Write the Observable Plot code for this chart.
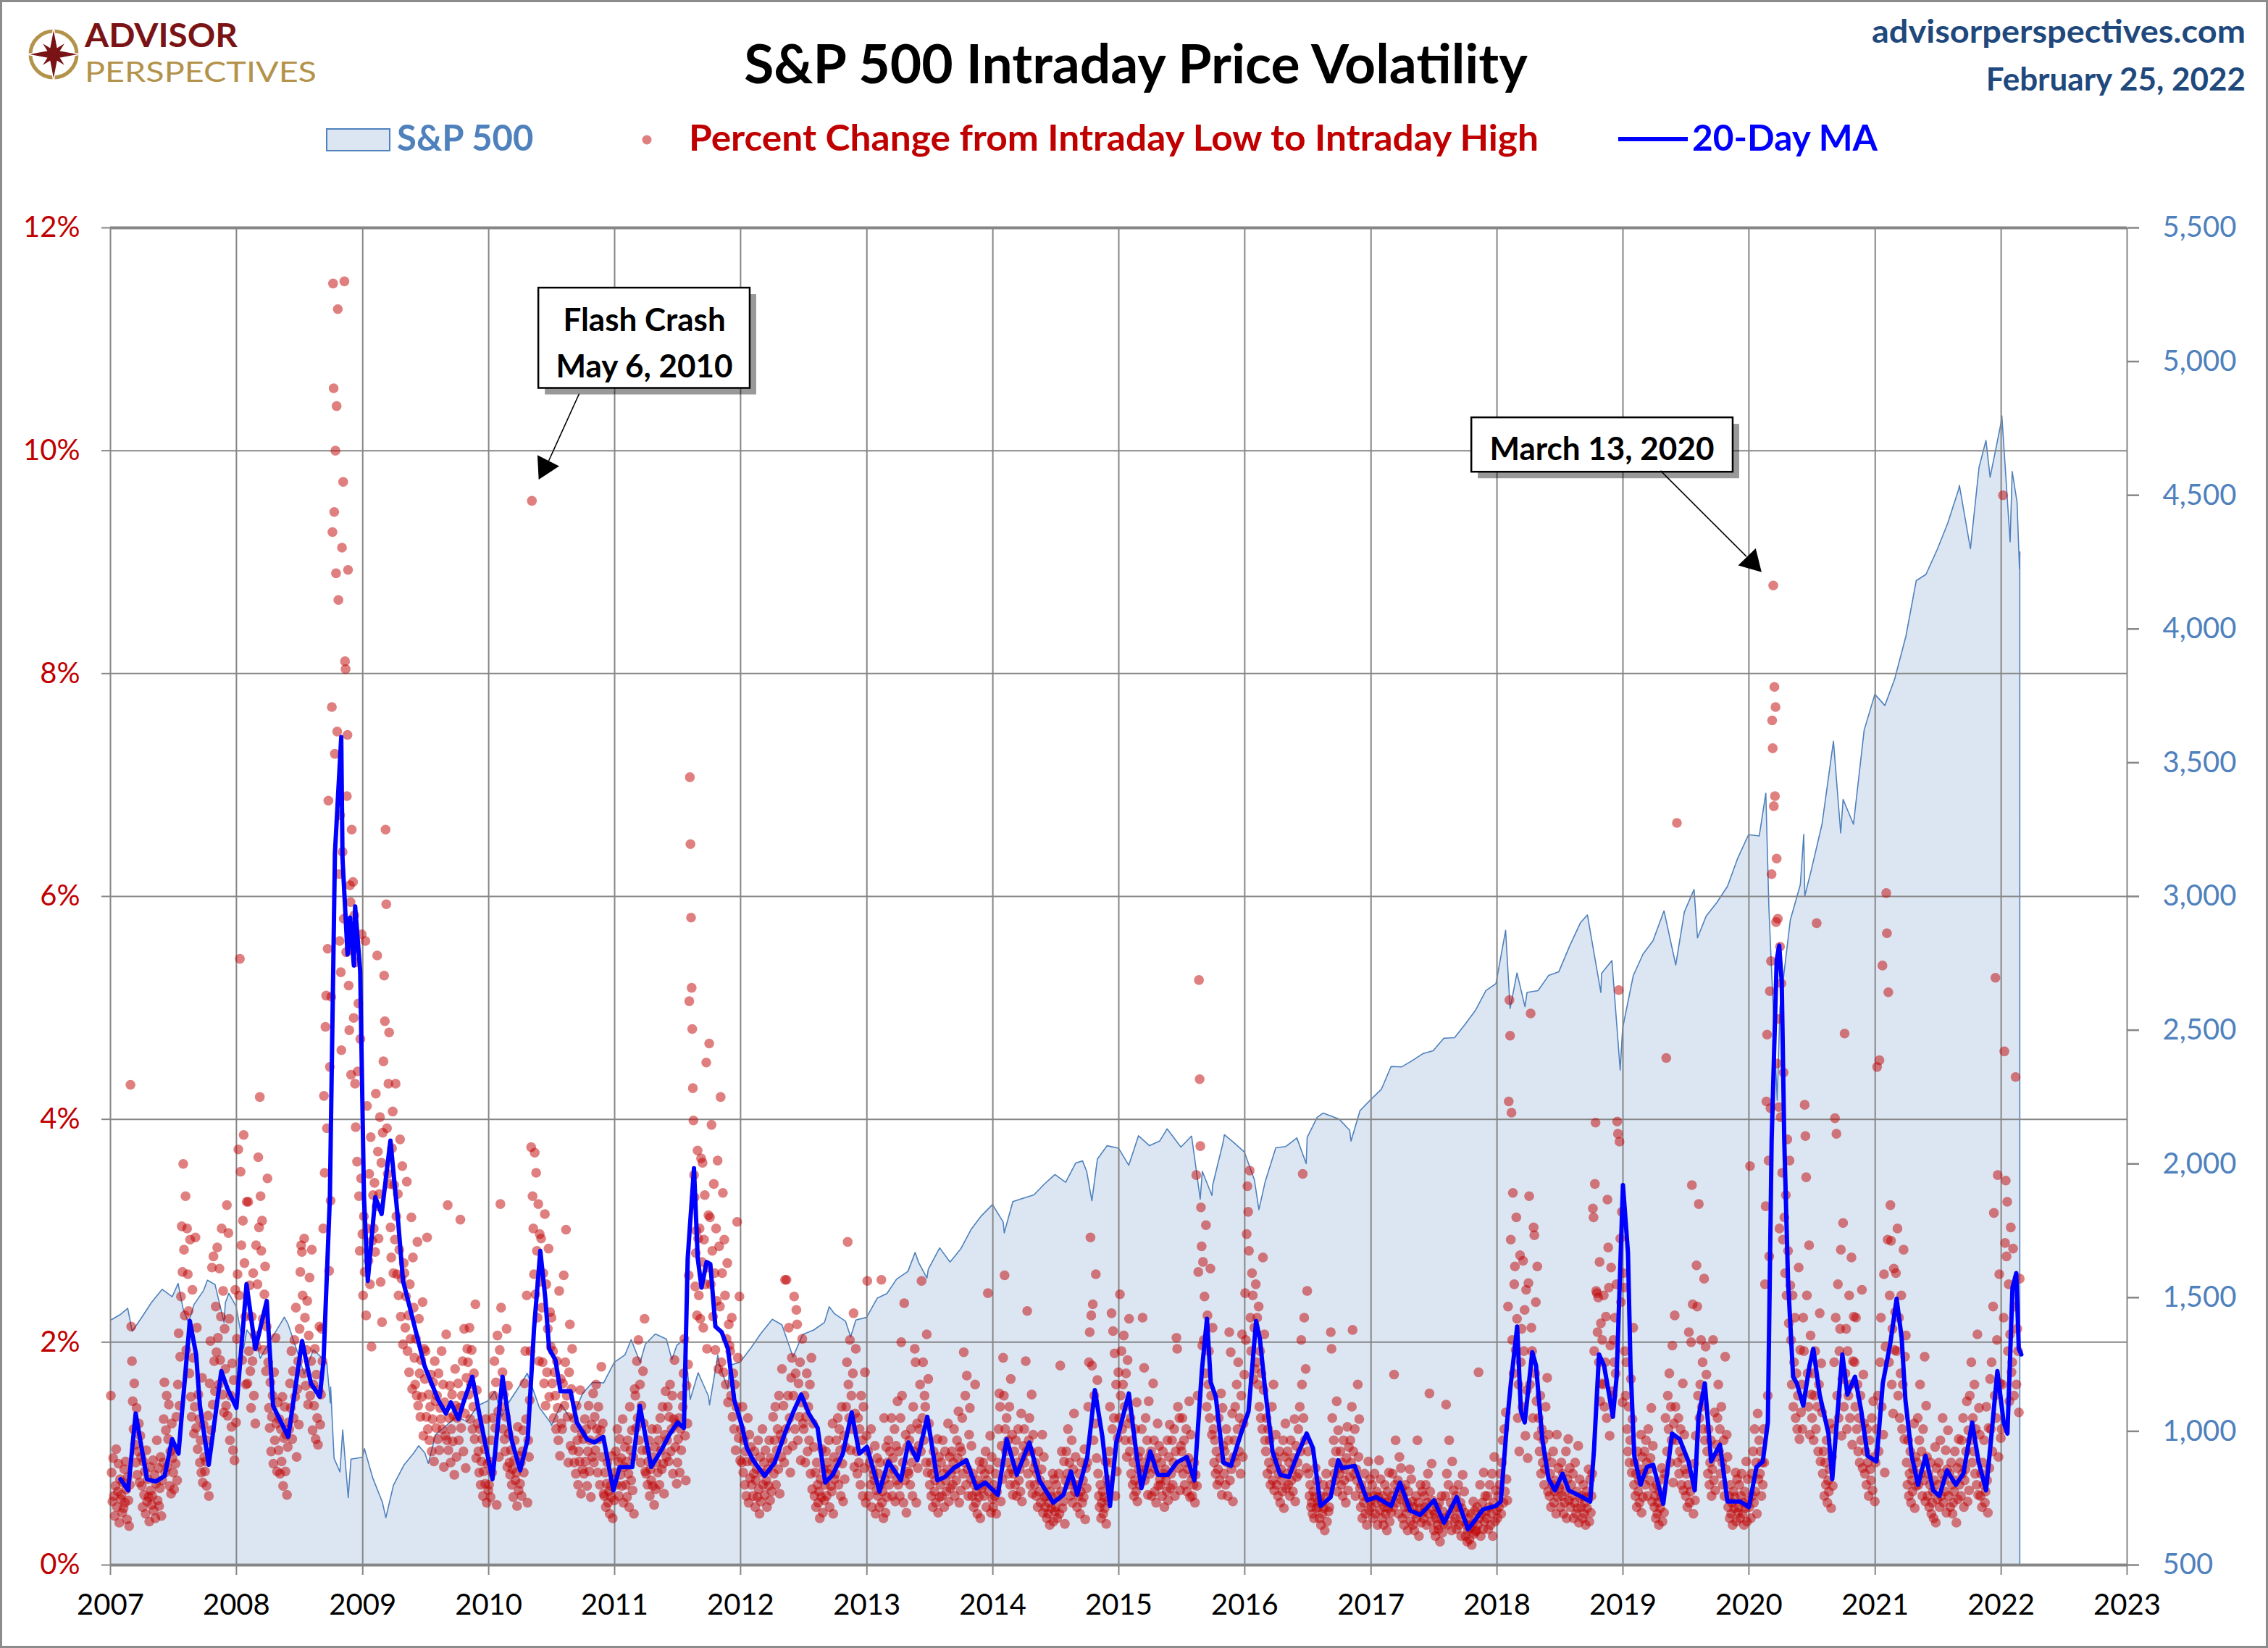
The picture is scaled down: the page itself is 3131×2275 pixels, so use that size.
<!DOCTYPE html>
<html><head><meta charset="utf-8">
<script src="https://cdn.jsdelivr.net/npm/d3@7"></script>
<script src="https://cdn.jsdelivr.net/npm/@observablehq/plot@0.6"></script>
<style>
html,body{margin:0;padding:0;background:#fff;}
#wrap{position:relative;width:3131px;height:2275px;box-sizing:border-box;border:3px solid #8C8C8C;background:#fff;overflow:hidden;font-family:Lato,sans-serif;}
#head{display:block;}
#chart svg{display:block;}
</style></head>
<body>
<div id="wrap">
<svg id="head" width="3125" height="277" font-family="Lato, sans-serif">
  <g transform="translate(71,72)">
    <circle r="32" fill="none" stroke="#B3924A" stroke-width="5"/>
    <path d="M0,-37 L6,-6 L37,0 L6,6 L0,37 L-6,6 L-37,0 L-6,-6 Z" fill="#7A1315" stroke="#fff" stroke-width="1.5"/>
    <path d="M0,-21 L4,-4 L21,0 L4,4 L0,21 L-4,4 L-21,0 L-4,-4 Z" transform="rotate(45)" fill="#7A1315"/>
  </g>
  <text x="114" y="62" font-size="45" font-weight="700" fill="#7A1315" textLength="211" lengthAdjust="spacingAndGlyphs">ADVISOR</text>
  <text x="114" y="110" font-size="38" font-weight="400" fill="#B3924A" textLength="320" lengthAdjust="spacingAndGlyphs">PERSPECTIVES</text>
  <text x="1565" y="112" text-anchor="middle" font-size="75" font-weight="700" fill="#000">S&amp;P 500 Intraday Price Volatility</text>
  <text x="3097" y="56" text-anchor="end" font-size="44" font-weight="700" fill="#1F497D" textLength="516" lengthAdjust="spacingAndGlyphs">advisorperspectives.com</text>
  <text x="3097" y="122" text-anchor="end" font-size="44" font-weight="700" fill="#1F497D">February 25, 2022</text>
  <rect x="448" y="175" width="87" height="30" fill="#DCE6F2" stroke="#4F81BD" stroke-width="2"/>
  <text x="545" y="205" font-size="49" font-weight="700" fill="#4F81BD">S&amp;P 500</text>
  <circle cx="890" cy="190" r="6.5" fill="#C00000" fill-opacity="0.5"/>
  <text x="948" y="205" font-size="49" font-weight="700" fill="#C00000" textLength="1173" lengthAdjust="spacingAndGlyphs">Percent Change from Intraday Low to Intraday High</text>
  <line x1="2231" x2="2327" y1="189" y2="189" stroke="#0000FF" stroke-width="6"/>
  <text x="2333" y="205" font-size="49" font-weight="700" fill="#0000FF" textLength="256" lengthAdjust="spacingAndGlyphs">20-Day MA</text>
</svg>
<div id="chart"></div>
</div>
<script>
// ---------- tick labels ----------
const yearLabels = ["2007","2008","2009","2010","2011","2012","2013","2014","2015","2016","2017","2018","2019","2020","2021","2022","2023"];
const pctTicks = [0,2,4,6,8,10,12];
const spTicks = [500,1000,1500,2000,2500,3000,3500,4000,4500,5000,5500];

// ---------- S&P 500 level (date, index) ----------
const sp500 = [
["2007-01-03",1417],["2007-01-31",1438],["2007-02-20",1460],["2007-03-05",1374],["2007-03-30",1421],["2007-04-30",1482],["2007-05-31",1531],["2007-06-29",1503],["2007-07-16",1553],["2007-07-31",1455],["2007-08-15",1406],["2007-08-31",1474],["2007-09-28",1527],["2007-10-09",1565],["2007-10-31",1549],["2007-11-26",1407],["2007-11-30",1481],["2007-12-10",1516],["2007-12-31",1468],
["2008-01-22",1310],["2008-01-31",1379],["2008-02-29",1331],["2008-03-10",1273],["2008-03-31",1323],["2008-04-30",1386],["2008-05-19",1427],["2008-05-30",1400],["2008-06-30",1280],["2008-07-15",1214],["2008-07-31",1267],["2008-08-11",1305],["2008-08-29",1283],["2008-09-19",1255],["2008-09-29",1106],["2008-09-30",1166],["2008-10-10",899],["2008-10-27",848],["2008-11-04",1005],["2008-11-20",752],["2008-11-28",896],["2008-12-31",903],
["2009-01-06",935],["2009-01-30",826],["2009-02-27",735],["2009-03-09",677],["2009-03-31",798],["2009-04-30",873],["2009-05-29",919],["2009-06-12",946],["2009-06-30",919],["2009-07-10",880],["2009-07-31",987],["2009-08-31",1021],["2009-09-30",1057],["2009-10-30",1036],["2009-11-30",1096],["2009-12-31",1115],
["2010-01-19",1150],["2010-02-08",1056],["2010-02-26",1104],["2010-03-31",1169],["2010-04-23",1217],["2010-05-28",1089],["2010-06-30",1031],["2010-07-02",1022],["2010-07-30",1102],["2010-08-26",1047],["2010-08-31",1049],["2010-09-30",1141],["2010-10-29",1183],["2010-11-30",1181],["2010-12-31",1258],
["2011-01-31",1286],["2011-02-18",1343],["2011-03-16",1257],["2011-03-31",1326],["2011-04-29",1364],["2011-05-31",1345],["2011-06-16",1268],["2011-06-30",1321],["2011-07-22",1345],["2011-08-08",1119],["2011-08-31",1219],["2011-09-30",1131],["2011-10-03",1099],["2011-10-27",1285],["2011-10-31",1253],["2011-11-25",1159],["2011-11-30",1247],["2011-12-30",1258],
["2012-01-31",1312],["2012-02-29",1366],["2012-04-02",1419],["2012-04-30",1398],["2012-06-01",1278],["2012-06-29",1362],["2012-07-31",1379],["2012-08-31",1407],["2012-09-14",1466],["2012-09-28",1441],["2012-10-31",1412],["2012-11-15",1353],["2012-11-30",1416],["2012-12-31",1426],
["2013-01-31",1498],["2013-02-28",1515],["2013-03-28",1569],["2013-04-30",1598],["2013-05-21",1669],["2013-05-31",1631],["2013-06-24",1573],["2013-06-28",1606],["2013-07-31",1686],["2013-08-30",1633],["2013-09-30",1682],["2013-10-31",1757],["2013-11-29",1806],["2013-12-31",1848],
["2014-01-31",1783],["2014-02-03",1742],["2014-02-28",1859],["2014-03-31",1872],["2014-04-30",1884],["2014-05-30",1924],["2014-06-30",1960],["2014-07-31",1931],["2014-08-29",2003],["2014-09-18",2011],["2014-09-30",1972],["2014-10-15",1862],["2014-10-31",2018],["2014-11-28",2068],["2014-12-31",2059],
["2015-01-30",1995],["2015-02-27",2105],["2015-03-31",2068],["2015-04-30",2086],["2015-05-21",2131],["2015-06-30",2063],["2015-07-31",2104],["2015-08-25",1868],["2015-08-31",1972],["2015-09-28",1882],["2015-09-30",1920],["2015-10-30",2079],["2015-11-03",2109],["2015-11-30",2080],["2015-12-31",2044],
["2016-01-29",1940],["2016-02-11",1829],["2016-02-29",1932],["2016-03-31",2060],["2016-04-29",2065],["2016-05-31",2097],["2016-06-27",2001],["2016-06-30",2099],["2016-07-29",2174],["2016-08-15",2190],["2016-09-30",2168],["2016-10-31",2126],["2016-11-04",2085],["2016-11-30",2199],["2016-12-30",2239],
["2017-01-31",2279],["2017-02-28",2364],["2017-03-31",2363],["2017-04-28",2384],["2017-05-31",2412],["2017-06-30",2423],["2017-07-31",2470],["2017-08-31",2472],["2017-09-29",2519],["2017-10-31",2575],["2017-11-30",2648],["2017-12-29",2674],
["2018-01-26",2873],["2018-02-08",2581],["2018-02-28",2714],["2018-03-23",2588],["2018-03-29",2641],["2018-04-30",2648],["2018-05-31",2705],["2018-06-29",2718],["2018-07-31",2816],["2018-08-31",2902],["2018-09-20",2931],["2018-10-29",2641],["2018-10-31",2712],["2018-11-30",2760],["2018-12-24",2351],["2018-12-31",2507],
["2019-01-31",2704],["2019-02-28",2784],["2019-03-29",2834],["2019-04-30",2946],["2019-06-03",2744],["2019-06-28",2942],["2019-07-26",3026],["2019-08-05",2845],["2019-08-30",2926],["2019-09-30",2977],["2019-10-31",3038],["2019-11-29",3141],["2019-12-31",3231],
["2020-01-31",3226],["2020-02-19",3386],["2020-02-28",2954],["2020-03-23",2237],["2020-03-31",2585],["2020-04-30",2912],["2020-05-29",3044],["2020-06-08",3232],["2020-06-11",3002],["2020-06-30",3100],["2020-07-31",3271],["2020-09-02",3580],["2020-09-23",3237],["2020-09-30",3363],["2020-10-30",3270],["2020-11-30",3622],["2020-12-31",3756],
["2021-01-29",3714],["2021-02-26",3811],["2021-03-31",3973],["2021-04-30",4181],["2021-05-28",4204],["2021-06-30",4298],["2021-07-30",4395],["2021-08-31",4523],["2021-09-02",4537],["2021-10-04",4300],["2021-10-29",4605],["2021-11-18",4705],["2021-11-30",4567],["2021-12-31",4766],
["2022-01-03",4797],["2022-01-27",4326],["2022-02-02",4589],["2022-02-16",4475],["2022-02-23",4225],["2022-02-24",4288]
];

// ---------- 20-day moving average (decimal year, percent) ----------
const ma20 = [
[2007.08,0.77],[2007.14,0.67],[2007.20,1.36],[2007.29,0.77],[2007.36,0.75],[2007.43,0.80],[2007.49,1.13],[2007.54,1.00],[2007.63,2.19],[2007.68,1.89],[2007.71,1.43],[2007.78,0.90],[2007.88,1.74],[2007.93,1.58],
[2008.00,1.41],[2008.08,2.52],[2008.15,1.94],[2008.24,2.37],[2008.29,1.43],[2008.41,1.15],[2008.52,2.01],[2008.59,1.63],[2008.66,1.51],[2008.69,1.84],[2008.74,3.30],[2008.78,6.39],[2008.83,7.43],[2008.84,6.34],[2008.88,5.48],[2008.90,5.81],[2008.93,5.38],[2008.94,5.91],[2008.98,5.33],
[2009.01,3.30],[2009.04,2.55],[2009.10,3.30],[2009.15,3.15],[2009.22,3.81],[2009.28,3.10],[2009.32,2.55],[2009.39,2.24],[2009.49,1.79],[2009.60,1.48],[2009.66,1.36],[2009.70,1.46],[2009.76,1.31],[2009.80,1.46],[2009.87,1.69],[2009.93,1.33],
[2010.03,0.77],[2010.11,1.69],[2010.18,1.13],[2010.25,0.85],[2010.31,1.13],[2010.36,2.12],[2010.41,2.82],[2010.45,2.39],[2010.48,1.94],[2010.53,1.84],[2010.57,1.56],[2010.65,1.56],[2010.70,1.28],[2010.78,1.13],[2010.84,1.10],[2010.91,1.15],[2010.99,0.67],
[2011.04,0.88],[2011.14,0.88],[2011.20,1.43],[2011.29,0.88],[2011.38,1.05],[2011.44,1.18],[2011.50,1.28],[2011.55,1.23],[2011.58,2.75],[2011.63,3.56],[2011.66,2.75],[2011.69,2.49],[2011.73,2.72],[2011.76,2.70],[2011.80,2.14],[2011.85,2.09],[2011.90,1.94],[2011.95,1.48],
[2012.01,1.25],[2012.05,1.05],[2012.10,0.94],[2012.19,0.80],[2012.27,0.92],[2012.35,1.18],[2012.42,1.38],[2012.48,1.53],[2012.54,1.36],[2012.61,1.23],[2012.67,0.74],[2012.73,0.81],[2012.81,1.00],[2012.88,1.37],[2012.94,1.00],
[2013.00,1.06],[2013.10,0.66],[2013.17,0.93],[2013.27,0.76],[2013.33,1.10],[2013.40,0.94],[2013.48,1.33],[2013.56,0.76],[2013.62,0.79],[2013.69,0.87],[2013.79,0.94],[2013.87,0.69],[2013.94,0.74],
[2014.04,0.63],[2014.11,1.13],[2014.19,0.81],[2014.29,1.10],[2014.37,0.76],[2014.48,0.56],[2014.56,0.63],[2014.62,0.84],[2014.67,0.63],[2014.75,0.97],[2014.81,1.57],[2014.87,1.15],[2014.93,0.53],[2014.98,1.10],
[2015.08,1.54],[2015.14,1.00],[2015.18,0.69],[2015.25,1.02],[2015.31,0.81],[2015.39,0.81],[2015.46,0.92],[2015.54,0.97],[2015.60,0.76],[2015.66,1.75],[2015.70,2.21],[2015.73,1.64],[2015.77,1.51],[2015.83,0.92],[2015.89,0.89],[2015.97,1.18],
[2016.03,1.38],[2016.09,2.19],[2016.12,2.03],[2016.16,1.59],[2016.22,1.02],[2016.28,0.81],[2016.35,0.79],[2016.41,0.97],[2016.49,1.18],[2016.54,1.05],[2016.60,0.53],[2016.68,0.61],[2016.74,0.94],[2016.77,0.87],[2016.87,0.89],[2016.97,0.58],
[2017.04,0.61],[2017.16,0.53],[2017.23,0.74],[2017.31,0.49],[2017.39,0.45],[2017.50,0.58],[2017.58,0.38],[2017.68,0.61],[2017.77,0.32],[2017.89,0.50],[2017.99,0.53],
[2018.03,0.57],[2018.08,1.28],[2018.11,1.63],[2018.16,2.14],[2018.19,1.38],[2018.22,1.28],[2018.28,1.91],[2018.31,1.79],[2018.36,1.13],[2018.41,0.77],[2018.46,0.67],[2018.52,0.82],[2018.57,0.67],[2018.66,0.62],[2018.74,0.57],[2018.77,1.03],[2018.81,1.89],[2018.85,1.79],[2018.89,1.53],[2018.92,1.33],[2018.95,1.69],
[2019.00,3.41],[2019.04,2.80],[2019.06,1.79],[2019.09,0.98],[2019.14,0.72],[2019.19,0.88],[2019.24,0.90],[2019.32,0.55],[2019.39,1.18],[2019.45,1.13],[2019.52,0.93],[2019.57,0.67],[2019.60,1.33],[2019.65,1.63],[2019.70,0.93],[2019.77,1.08],[2019.83,0.57],[2019.93,0.57],
[2020.00,0.52],[2020.06,0.88],[2020.11,0.93],[2020.15,1.28],[2020.18,3.81],[2020.22,5.43],[2020.24,5.56],[2020.26,5.23],[2020.28,3.81],[2020.31,2.55],[2020.35,1.69],[2020.38,1.63],[2020.43,1.43],[2020.48,1.79],[2020.51,1.94],[2020.56,1.53],[2020.63,1.18],[2020.66,0.77],[2020.71,1.48],[2020.74,1.89],[2020.78,1.53],[2020.84,1.69],[2020.89,1.38],[2020.94,0.98],
[2021.01,0.93],[2021.06,1.63],[2021.12,1.99],[2021.17,2.39],[2021.21,2.04],[2021.24,1.48],[2021.29,0.98],[2021.34,0.72],[2021.40,0.98],[2021.46,0.67],[2021.51,0.62],[2021.57,0.85],[2021.64,0.72],[2021.70,0.82],[2021.77,1.28],[2021.82,0.93],[2021.88,0.67],[2021.92,1.13],[2021.97,1.74],
[2022.02,1.28],[2022.05,1.18],[2022.09,2.49],[2022.12,2.62],[2022.14,1.94],[2022.16,1.89]
];

// ---------- daily % change low->high, listed month by month ----------
const pct2007 = [
[1.52,0.83,0.57,0.96,0.62,0.44,0.71,1.04,0.52,0.66,0.91,0.38,0.77,0.59],
[0.63,0.47,0.74,0.51,0.86,0.56,0.93,0.68,0.41,0.79,0.58,0.35,0.72,4.31],
[2.14,1.83,1.47,1.22,1.63,1.08,0.92,1.41,0.81,1.02,1.27,0.74,1.16,0.97],
[0.71,0.52,0.93,0.63,0.84,0.46,1.03,0.57,0.77,0.61,0.39,0.88,0.67,0.54],
[0.62,0.94,0.49,0.81,0.42,0.73,1.12,0.58,0.87,0.53,0.69,0.97,0.44,0.76],
[0.92,1.31,1.64,0.83,1.21,1.52,0.88,1.13,1.44,0.71,1.02,0.64,1.27,0.96],
[0.83,0.68,1.04,0.91,1.33,0.76,1.62,2.08,1.43,1.87,2.41,3.04,2.63,3.6],
[2.83,2.24,3.31,1.93,3.02,2.61,2.28,1.72,2.92,1.51,1.33,2.47,1.86,1.18],
[1.42,2.94,1.23,2.13,1.04,1.53,1.31,0.92,1.12,0.83,1.68,0.74,1.26,0.97],
[0.84,0.93,0.71,1.12,1.34,0.62,1.63,2.01,1.21,2.67,1.44,2.77,1.83,1.56],
[2.32,1.91,2.85,2.04,1.62,2.66,1.84,2.23,3.02,1.53,2.46,1.37,2.12,1.76],
[1.43,3.23,1.34,2.98,2.21,1.12,1.52,1.24,1.81,1.03,1.66,0.94,2.47,1.28]];
const pct2008 = [
[2.03,2.61,3.73,2.42,5.44,3.53,2.87,1.84,3.09,3.86,2.71,2.23,1.62,3.26],
[1.63,3.26,1.92,2.51,1.74,1.41,2.23,1.83,2.62,1.52,2.06,1.27,2.87,1.96],
[2.52,3.66,3.03,4.2,3.31,2.82,3.09,2.21,1.93,2.43,2.68,1.74,2.14,3.47],
[1.82,1.41,1.23,1.64,1.02,1.33,1.52,0.91,1.73,1.12,2.04,1.27,0.84,1.46],
[1.03,1.31,0.82,1.22,0.93,1.51,0.71,1.14,1.42,0.84,1.17,0.63,1.06,1.28],
[1.22,1.63,1.41,1.92,1.13,1.74,1.32,2.02,1.51,2.31,0.97,1.58,1.83,1.26],
[2.12,2.63,2.87,2.81,2.42,1.72,2.93,2.22,1.61,1.93,2.37,1.44,2.06,2.58],
[1.52,1.83,2.83,1.21,1.62,1.43,1.94,1.13,1.71,1.32,1.08,1.57,2.14,1.26],
[1.53,2.12,1.83,3.02,4.21,3.52,4.83,5.11,3.92,5.53,6.86,2.64,4.47,3.27],
[5.1,7.7,9.27,11.5,10.56,9.45,7.28,10.0,8.9,10.4,7.48,11.27,8.66,6.2,5.6,6.73,5.32,4.62],
[9.13,6.4,9.72,5.8,11.52,8.11,8.04,5.5,6.9,7.45,8.93,5.2,4.8,6.1,5.95,4.4,6.6],
[5.52,6.13,4.91,5.83,4.32,3.93,5.41,3.62,4.43,5.04,3.31,2.82,4.72,3.47,5.66,2.97]];
const pct2009 = [
[2.42,3.13,2.63,5.6,2.24,4.12,3.02,2.73,3.51,2.52,3.84,1.96,2.91,3.32],
[3.02,3.43,2.81,4.23,3.22,5.47,3.71,2.93,3.33,4.02,2.54,3.61,2.18,3.88],
[4.52,5.29,4.88,6.6,5.93,3.92,3.51,4.32,4.78,3.42,3.03,2.76,3.74,4.07,2.62],
[3.41,2.92,4.32,3.13,2.61,3.33,2.42,2.83,3.82,2.23,2.57,3.58,1.98,2.71],
[2.62,2.13,2.41,3.44,1.92,2.24,1.73,2.52,2.03,3.12,1.58,2.76,2.31,1.86],
[1.62,2.03,1.52,2.9,1.43,2.21,1.72,1.33,1.84,1.51,2.36,1.16,1.94,1.67],
[1.92,1.33,2.94,1.22,1.53,1.12,1.42,1.71,1.02,1.31,1.64,0.93,1.83,1.47],
[1.23,1.52,1.13,1.72,1.03,1.41,1.31,1.92,1.22,1.62,0.88,1.46,1.16,2.07],
[1.12,3.23,1.03,1.32,1.61,0.92,1.22,1.53,1.11,1.34,0.81,1.76,1.43,0.97],
[1.32,1.63,1.12,1.41,3.1,1.23,1.52,1.83,1.02,2.12,1.36,0.87,1.68,1.94],
[1.82,1.53,2.13,1.31,1.62,1.93,1.22,1.42,1.72,1.13,2.34,0.96,1.57,1.27],
[1.02,0.83,1.22,0.72,0.93,1.13,0.62,0.84,1.04,0.73,1.31,0.56,0.91,0.67]];
const pct2010 = [
[0.72,0.93,0.61,1.12,0.83,1.32,1.52,1.83,1.23,1.64,0.54,2.06,1.38,0.97],
[1.93,3.24,2.31,1.42,1.73,1.22,1.53,1.13,1.02,1.33,2.12,0.88,1.61,1.18],
[0.92,0.81,1.03,0.72,0.86,0.61,0.94,1.12,0.76,0.83,0.53,1.24,0.67,0.98],
[0.73,0.92,0.62,1.02,1.21,0.83,1.63,1.92,1.31,2.42,0.56,1.12,0.97,1.48],
[1.92,3.75,9.55,3.31,3.02,2.61,3.7,2.43,3.52,2.82,2.22,3.24,1.83,2.97,2.54],
[2.93,2.31,1.82,2.62,1.63,3.15,1.43,2.52,1.73,2.12,2.84,1.51,2.27,1.96],
[2.22,1.63,1.92,1.32,1.73,1.52,1.22,1.83,1.41,1.12,2.46,0.98,1.67,1.27],
[1.22,1.63,2.6,1.43,1.82,3.01,1.52,1.33,0.92,1.73,2.16,1.07,1.58,1.94],
[1.03,1.32,0.92,1.23,0.82,1.43,1.12,0.72,1.02,0.93,1.57,0.64,1.18,0.86],
[1.13,0.82,1.31,0.93,1.22,0.71,1.02,1.43,0.84,1.12,0.61,1.26,0.97,1.54],
[0.92,1.33,1.03,1.62,1.22,0.83,1.42,1.13,0.72,1.21,1.78,0.97,1.27,0.64],
[0.62,0.83,0.52,0.73,0.92,0.56,0.66,0.46,0.71,0.61,0.98,0.42,0.77,0.58]];
const pct2011 = [
[0.83,1.02,0.72,1.22,0.93,0.62,1.13,0.81,0.96,0.71,1.31,0.56,0.88,1.06],
[0.72,0.93,0.61,1.12,0.82,0.52,1.42,1.03,0.76,1.21,0.67,0.97,0.46,1.58],
[1.52,1.23,1.83,1.32,2.02,1.12,1.62,0.92,1.43,1.03,1.74,1.27,2.21,0.84],
[0.82,1.03,0.72,0.93,1.12,0.62,0.86,0.76,1.22,0.71,0.97,0.54,1.06,0.68],
[0.92,1.22,0.83,1.12,0.72,1.32,1.03,0.86,1.42,0.91,0.64,1.17,1.56,0.97],
[1.12,1.42,0.93,1.33,1.62,1.02,1.22,1.52,0.82,1.31,1.84,1.06,1.27,0.73],
[0.92,1.13,1.32,0.83,1.22,1.03,1.52,1.42,1.72,2.03,1.16,0.76,1.61,1.27],
[1.8,2.6,5.06,7.07,6.47,5.81,5.18,4.81,4.28,3.99,3.5,3.3,2.5,2.8,3.0,2.24,3.72,2.93],
[2.42,3.02,2.21,3.65,2.72,3.61,2.13,2.92,3.32,2.52,4.51,1.94,2.67,3.14],
[4.68,3.12,2.52,3.95,2.82,2.23,3.42,2.62,1.93,3.02,2.37,3.63,1.76,2.86],
[2.32,4.2,1.82,2.62,3.34,1.73,2.92,2.42,1.62,2.03,2.71,1.46,2.16,1.97],
[1.92,1.52,2.22,1.33,1.72,1.22,1.62,1.03,1.42,3.08,1.86,1.14,2.41,0.94]];
const pct2012 = [
[1.22,0.92,1.42,0.83,1.12,0.72,1.02,0.62,0.93,1.32,0.56,1.17,0.78,1.06],
[0.72,0.93,0.62,0.82,1.02,0.52,0.76,0.86,0.61,1.12,0.68,0.46,0.97,0.57],
[0.83,1.22,0.72,0.92,0.63,1.03,0.76,0.52,0.86,0.71,1.12,0.58,0.96,0.66],
[0.92,1.33,0.82,1.12,1.42,0.72,1.03,1.22,0.86,1.52,0.64,1.17,0.97,1.76],
[1.12,1.43,0.92,2.56,1.22,2.56,1.03,1.52,2.13,1.32,0.83,1.68,1.86,1.07],
[1.52,2.41,1.22,1.72,2.29,2.16,1.12,1.63,1.33,1.82,0.94,1.46,2.03,1.27],
[1.22,1.52,0.92,1.33,1.72,1.02,1.42,1.12,1.62,0.82,1.86,0.68,1.27,1.06],
[0.62,0.83,0.52,0.92,0.72,0.56,0.66,0.42,0.77,0.61,1.04,0.47,0.86,0.58],
[0.72,1.02,0.62,0.92,0.82,1.12,0.52,0.86,0.71,0.66,1.27,0.46,0.97,0.77],
[0.82,1.12,0.92,1.32,0.72,1.22,1.03,0.62,1.42,0.91,0.57,1.16,0.77,1.06],
[1.42,1.82,2.9,1.62,1.32,2.02,1.03,1.52,1.22,1.72,2.26,0.88,1.36,1.94],
[1.02,0.82,1.32,0.92,1.22,0.72,1.52,1.12,0.62,1.42,0.87,1.73,0.56,1.16]];
const pct2013 = [
[2.55,1.02,0.62,0.92,0.72,1.22,0.52,0.86,0.81,0.76,1.07,0.46,0.67,0.96],
[0.62,0.82,0.52,0.92,0.72,2.56,0.56,0.66,0.42,1.32,0.77,0.47,1.06,0.61],
[0.92,1.12,0.72,1.02,0.82,1.32,0.62,0.96,0.86,1.22,0.57,1.07,0.76,1.47],
[0.72,1.02,0.62,1.32,2.0,1.52,0.92,0.56,2.35,0.76,1.17,0.47,1.06,0.84],
[0.82,1.12,0.72,1.22,0.92,0.62,1.42,1.02,1.94,1.82,0.56,1.27,0.87,1.07],
[1.22,1.62,1.02,2.55,1.32,1.82,1.12,1.52,1.42,0.92,2.07,0.83,1.67,1.27],
[0.72,0.92,0.62,0.82,0.52,1.02,0.66,0.76,0.56,0.86,1.13,0.47,0.97,0.61],
[0.72,0.92,0.62,1.12,0.82,0.52,1.02,0.76,0.66,0.86,1.27,0.57,0.97,0.69],
[0.82,1.02,0.72,0.92,1.22,0.62,0.86,0.76,1.12,0.96,1.38,0.56,1.06,0.67],
[1.02,1.32,0.82,1.91,0.92,1.52,0.72,1.7,0.86,0.62,1.17,1.41,0.77,1.07],
[0.62,0.82,0.52,0.72,1.62,0.56,0.66,0.46,0.76,0.61,0.93,0.42,0.86,0.69],
[0.72,0.92,0.62,0.82,1.02,0.52,0.76,2.44,0.66,0.86,1.16,0.47,0.97,0.59]];
const pct2014 = [
[0.52,0.72,0.62,0.82,0.46,0.66,0.92,1.22,1.54,1.42,0.57,1.07,0.77,1.86],
[1.52,2.6,1.22,1.02,1.32,0.92,1.12,0.82,1.42,0.72,1.67,0.86,1.17,0.63],
[0.82,1.02,0.72,1.12,0.62,0.92,1.22,0.76,0.86,0.66,1.36,0.57,0.97,1.07],
[1.22,0.92,1.83,1.02,2.28,0.82,1.12,1.32,0.72,1.02,1.53,0.64,1.17,0.87],
[0.72,0.92,0.62,0.82,0.52,1.02,0.66,0.76,0.56,0.86,1.17,0.47,0.97,0.61],
[0.52,0.62,0.42,0.72,0.46,0.56,0.36,0.66,0.51,0.61,0.82,0.39,0.77,0.48],
[0.52,0.72,0.42,0.62,0.82,0.46,1.79,0.66,1.02,0.51,0.57,0.93,0.37,0.76],
[1.02,0.82,1.22,0.72,0.92,0.62,0.76,1.12,0.56,0.86,1.36,0.66,0.97,0.71],
[0.52,0.72,0.62,0.82,0.46,0.66,0.92,0.56,0.76,0.61,1.04,0.41,0.87,0.69],
[0.92,1.42,1.82,2.09,2.94,2.24,1.79,2.34,1.12,1.52,1.27,2.61,0.96,1.66],
[0.82,0.62,0.52,0.72,0.42,0.56,0.66,0.46,0.61,0.51,0.93,0.37,0.77,0.58],
[0.72,1.02,1.42,0.92,2.26,1.22,2.1,1.32,1.9,0.62,1.62,0.84,1.14,1.73]];
const pct2015 = [
[1.32,2.43,1.52,1.92,1.22,1.62,2.06,1.42,1.12,1.72,0.97,1.84,1.27,2.21],
[1.02,1.32,0.82,1.12,0.72,0.92,0.62,0.76,1.22,0.66,1.46,0.57,0.97,0.86],
[0.72,1.02,0.82,1.22,2.22,0.92,1.77,0.76,1.32,0.86,1.12,0.63,1.47,0.97],
[0.82,1.02,0.62,0.92,1.63,1.12,0.66,0.86,0.56,0.96,1.27,0.71,1.07,0.77],
[0.72,0.92,0.62,1.02,0.82,0.52,0.86,0.76,0.66,1.12,0.58,0.97,1.26,0.69],
[0.82,1.12,0.72,0.92,1.22,0.62,1.02,2.04,1.94,1.42,0.87,1.32,0.67,1.07],
[1.02,1.32,0.82,1.12,0.72,0.92,1.22,0.66,0.86,0.96,1.47,0.61,1.17,0.77],
[0.62,0.82,0.72,0.92,0.56,0.81,3.5,0.71,1.52,2.63,5.25,4.36,3.76,3.21,2.86,1.97],
[2.72,2.02,2.41,1.72,3.05,1.42,2.24,1.62,1.92,1.32,2.66,1.52,1.17,2.13],
[1.22,0.92,1.12,0.82,1.02,0.72,0.86,1.32,0.76,0.96,1.54,0.63,1.41,1.07],
[0.82,1.02,0.72,1.22,0.92,0.62,1.12,2.09,0.76,1.91,0.86,1.36,0.57,0.97],
[1.12,1.42,0.92,1.62,1.22,1.82,1.02,1.32,0.82,1.52,2.07,0.97,1.27,1.71]];
const pct2016 = [
[2.44,2.02,2.97,3.4,3.17,2.82,3.54,2.22,1.92,2.62,2.42,1.67,2.13,1.76],
[2.52,1.82,2.22,1.62,2.32,1.42,1.92,1.32,1.72,1.22,2.76,1.57,2.07,1.12],
[1.02,1.32,0.82,1.22,0.92,1.12,0.72,0.86,1.42,0.76,1.62,0.67,0.97,1.17],
[0.72,0.92,0.62,0.82,1.02,0.56,0.86,0.76,0.66,1.12,0.51,0.97,1.27,0.69],
[0.82,1.02,0.72,0.92,0.62,1.12,0.76,0.86,0.66,0.96,1.31,0.57,1.07,0.79],
[0.92,1.22,0.82,1.42,1.02,2.02,1.62,3.51,1.32,2.22,1.12,1.76,0.87,2.46],
[1.02,0.82,0.62,0.72,0.52,0.56,0.46,0.66,0.42,0.61,0.87,0.51,0.76,0.57],
[0.52,0.42,0.62,0.36,0.56,0.46,0.72,0.51,0.31,0.61,0.82,0.39,0.66,0.48],
[0.52,0.72,2.09,1.94,1.32,0.92,1.12,0.82,0.76,1.02,1.47,0.66,1.21,0.87],
[0.82,1.02,0.72,0.92,0.62,1.12,0.76,0.86,0.56,0.96,1.24,0.67,1.06,0.79],
[1.12,0.92,1.42,2.11,1.02,0.82,1.22,0.62,0.86,0.76,1.62,0.97,1.31,0.69],
[0.52,0.72,0.42,0.62,0.56,0.82,0.46,0.66,0.36,0.61,0.93,0.49,0.77,0.57]];
const pct2017 = [
[0.52,0.72,0.42,0.62,0.82,0.46,0.56,0.66,0.36,0.61,0.94,0.49,0.77,0.57],
[0.42,0.62,0.36,0.52,0.72,0.46,0.56,0.31,0.66,0.51,0.83,0.39,0.58,0.47],
[0.62,0.82,0.52,1.71,0.72,1.12,0.56,0.66,0.76,0.46,0.97,0.59,0.87,0.69],
[0.42,0.62,0.36,0.52,0.72,0.46,0.56,0.31,0.66,0.51,0.86,0.39,0.77,0.57],
[0.36,0.52,0.31,0.46,0.62,0.42,1.12,0.56,0.26,0.51,0.72,0.38,0.66,0.47],
[0.42,0.62,0.52,0.72,0.36,0.56,0.82,0.46,1.54,0.66,0.39,0.91,0.58,0.49],
[0.31,0.46,0.26,0.42,0.52,0.36,0.32,0.56,0.21,0.41,0.62,0.29,0.48,0.37],
[0.42,0.62,1.44,0.82,0.36,0.72,1.12,0.46,0.56,0.31,0.93,0.51,0.67,0.39],
[0.42,0.62,0.32,0.52,0.72,0.36,0.46,0.56,0.26,0.51,0.81,0.39,0.66,0.47],
[0.26,0.36,0.21,0.31,0.42,0.23,0.33,0.46,0.18,0.37,0.57,0.28,0.49,0.3],
[0.31,0.52,0.36,1.73,0.42,0.72,0.26,0.46,0.56,0.32,0.83,0.39,0.62,0.48],
[0.42,0.62,0.32,0.52,0.72,0.36,0.46,0.82,0.26,0.56,0.97,0.39,0.67,0.49]];
const pct2018 = [
[0.42,0.62,0.52,0.72,0.82,0.46,0.92,1.12,0.56,1.22,0.66,1.37,0.77,0.58],
[2.32,4.16,5.07,4.75,2.92,4.06,2.02,3.34,1.72,2.52,2.68,1.93,3.12,2.21],
[1.32,1.62,1.02,2.78,1.82,2.12,1.42,2.73,1.92,2.29,1.16,2.47,1.57,0.96],
[2.53,3.31,1.62,4.95,2.13,1.92,1.32,3.03,2.96,1.72,2.36,1.47,2.68,1.16],
[1.32,1.02,1.52,0.82,1.22,0.92,1.12,0.72,0.86,1.42,0.97,1.68,0.66,1.17],
[0.62,0.82,0.52,0.92,0.72,1.02,0.56,0.66,0.76,0.46,1.17,0.61,0.87,0.69],
[0.72,0.52,0.92,0.62,0.82,0.46,0.56,0.66,1.02,0.42,0.77,1.13,0.58,0.87],
[0.52,0.72,0.62,0.82,0.42,0.56,0.92,0.46,0.66,0.51,1.07,0.38,0.77,0.6],
[0.52,0.62,0.42,0.72,0.46,0.56,0.36,0.66,0.51,0.61,0.86,0.39,0.77,0.47],
[0.62,0.82,3.2,3.12,1.92,3.42,3.97,2.46,2.44,2.09,2.4,1.82,2.72,1.47,2.17,1.63],
[2.02,1.62,2.42,1.42,1.82,2.23,1.32,3.28,2.85,2.49,1.16,1.97,2.67,1.56],
[1.52,2.02,1.82,2.22,1.72,2.52,3.98,3.87,5.16,3.8,2.93,2.36,3.17,1.46]];
const pct2019 = [
[2.62,2.49,1.92,1.52,1.82,1.22,1.02,1.42,0.92,1.12,1.67,0.83,1.31,2.13],
[0.72,0.92,0.62,0.82,0.52,1.02,0.66,0.76,0.56,0.86,1.17,0.47,0.97,0.61],
[0.82,1.02,0.72,1.12,0.92,0.62,1.22,0.86,0.76,0.96,1.41,0.57,1.07,0.69],
[0.52,0.62,0.42,0.72,0.46,0.56,0.36,0.66,0.51,0.61,0.87,0.39,0.77,0.47],
[0.82,1.32,4.55,1.02,1.52,1.22,1.72,0.92,1.42,1.12,1.97,0.74,1.27,2.24],
[1.42,1.12,6.66,0.92,1.32,0.82,1.02,1.22,0.72,0.96,1.63,0.67,1.17,0.86],
[0.62,0.82,0.52,0.72,2.09,0.56,0.66,2.0,3.41,2.34,0.46,0.91,0.58,1.16],
[2.69,2.32,1.52,3.24,1.32,1.62,2.02,1.42,1.82,1.22,2.57,1.12,1.96,1.71],
[1.02,0.82,1.22,0.72,0.92,1.12,0.62,0.86,2.02,0.76,1.37,0.67,0.97,1.08],
[1.32,1.62,1.02,1.22,0.82,1.42,0.92,0.72,1.12,0.62,1.87,0.86,1.17,0.97],
[0.52,0.62,0.42,0.72,0.46,0.56,0.36,0.66,0.51,0.61,0.83,0.39,0.77,0.47],
[0.52,0.72,0.42,0.62,0.82,0.46,0.56,0.36,0.66,0.51,0.93,0.39,0.77,0.58]];
const pct2020 = [
[0.52,3.58,0.42,0.82,0.62,1.02,0.56,1.22,0.66,0.92,0.46,1.36,0.77,1.12],
[0.82,1.02,0.62,0.92,0.72,1.22,0.92,2.52,3.22,4.16,4.76,1.52,3.63,2.77],
[5.15,4.1,5.42,6.2,7.58,7.33,8.79,6.81,7.88,6.9,7.7,5.77,6.34,4.5,5.8,4.9,4.11,3.02,5.55],
[4.02,5.22,3.52,2.92,4.42,3.12,2.62,3.32,2.42,3.82,2.82,2.17,3.63,2.51],
[2.02,1.62,2.42,1.42,1.82,2.22,1.32,1.72,1.22,1.52,2.67,1.13,1.93,1.37],
[1.62,1.22,2.22,1.92,4.13,3.85,3.48,2.42,1.72,1.42,2.87,1.17,2.06,1.53],
[1.32,1.72,1.12,1.52,1.92,1.22,5.76,1.42,1.02,1.62,2.26,0.93,1.81,1.37],
[0.82,1.02,0.62,0.92,0.72,1.12,0.56,0.76,0.66,0.86,1.27,0.51,0.97,0.71],
[1.22,1.82,4.01,2.22,3.87,1.52,2.52,1.32,1.92,2.12,2.83,1.16,1.67,3.07],
[1.42,4.77,1.72,2.12,1.22,1.92,1.52,2.42,1.32,1.62,2.76,1.08,1.83,2.23],
[1.82,1.42,2.22,1.22,1.62,1.02,1.32,0.92,1.52,1.12,2.47,0.87,1.71,1.27],
[0.82,1.02,0.72,1.22,0.92,0.62,1.12,0.86,0.76,1.32,0.67,1.47,0.97,0.57]];
const pct2021 = [
[0.92,1.22,4.47,1.52,1.02,4.53,1.82,2.22,1.42,5.38,1.17,2.61,0.83,1.96],
[6.03,5.67,2.92,5.14,1.82,2.42,3.23,2.91,1.62,2.12,1.36,2.66,1.93,2.27],
[2.62,1.92,3.02,1.52,2.22,1.32,1.72,2.42,1.22,1.62,2.83,1.13,1.87,2.06],
[0.92,0.72,1.12,0.62,0.82,1.02,0.56,0.76,0.66,0.86,1.27,0.51,0.97,0.71],
[0.92,1.32,0.72,1.12,1.62,0.82,1.02,0.62,1.22,0.76,1.87,0.57,1.43,0.97],
[0.62,0.82,0.52,0.72,0.92,0.46,0.56,0.66,0.42,0.76,1.06,0.38,0.87,0.59],
[0.72,0.92,0.52,1.12,0.62,0.82,1.32,0.56,0.76,0.66,1.03,0.47,0.86,1.21],
[0.62,0.82,0.52,0.92,0.72,0.46,0.56,0.66,1.02,0.76,0.38,0.87,0.59,1.13],
[0.72,0.92,0.62,1.12,0.82,1.32,0.52,0.76,0.86,1.02,1.47,0.57,1.21,0.67],
[1.52,1.12,1.82,0.92,1.32,1.02,1.62,0.82,1.22,0.72,2.07,0.63,1.41,1.17],
[0.62,0.82,0.52,0.92,0.72,1.12,0.56,0.66,1.42,0.76,0.47,1.23,0.87,1.67],
[1.22,1.82,1.02,2.32,3.16,1.52,5.27,1.32,2.02,3.5,0.97,2.61,1.63,1.14]];
const pct2022 = [
[1.22,1.62,9.6,2.22,4.61,2.89,3.45,2.77,3.26,1.92,2.52,1.47,2.07,3.03,1.73],
[1.82,2.84,1.52,2.32,4.38,1.62,2.12,1.92,1.37,2.57]];

// ---------- annotations ----------
const callouts = [
  {label:"Flash Crash\nMay 6, 2010", bx1:2010.397, bx2:2012.075, by1:10.56, by2:11.46, tx:2011.236, ty:11.0,
   lx1:2010.718, ly1:10.51, lx2:2010.477, ly2:9.91, hx:2010.448, hy:9.854, rot:207},
  {label:"March 13, 2020", bx1:2017.799, bx2:2019.874, by1:9.808, by2:10.296, tx:2018.833, ty:10.052,
   lx1:2019.299, ly1:9.82, lx2:2019.98, ly2:9.051, hx:2020.023, hy:9.002, rot:136}
];

// ---------- build tables ----------
const decYear = t => { const y = Math.floor(t); const a = Date.UTC(y,0,1), b = Date.UTC(y+1,0,1); return new Date(a + (t - y) * (b - a)); };
const toY = v => (v - 500) / 5000 * 12;
const fromY = y => y / 12 * 5000 + 500;

const spData = sp500.map(([d, v]) => ({date: new Date(d + "T00:00:00Z"), y: toY(v)}));
const maData = ma20.map(([t, v]) => ({date: decYear(t), v}));
const pctYears = [pct2007,pct2008,pct2009,pct2010,pct2011,pct2012,pct2013,pct2014,pct2015,pct2016,pct2017,pct2018,pct2019,pct2020,pct2021,pct2022];
const dots = [];
pctYears.forEach((months, yi) => {
  const year = 2007 + yi;
  months.forEach((vals, m) => {
    const a = Date.UTC(year, m, 1), b = Date.UTC(year, m + 1, 1);
    const span = (year === 2022 && m === 1) ? 24 * 864e5 : (b - a);
    vals.forEach((v, i) => dots.push({date: new Date(a + (i + 0.5) / vals.length * span), v}));
  });
});
const xTicks = yearLabels.map(s => new Date(Date.UTC(+s, 0, 1)));
const lastSP = spData[spData.length - 1];
const grey = "#868686";

const chart = Plot.plot({
  width: 3125, height: 1992,
  marginTop: 34, marginBottom: 112, marginLeft: 149, marginRight: 192,
  style: {fontFamily: "Lato, sans-serif", fontSize: "40px", background: "transparent", color: "#000"},
  x: {type: "utc", domain: [xTicks[0], xTicks[xTicks.length - 1]], label: null},
  y: {domain: [0, 12], label: null},
  marks: [
    Plot.areaY(spData, {x: "date", y: "y", fill: "#DCE6F2"}),
    Plot.lineY(spData, {x: "date", y: "y", stroke: "#4F81BD", strokeWidth: 1.6}),
    Plot.ruleX([lastSP], {x: "date", y1: 0, y2: "y", stroke: "#4F81BD", strokeWidth: 1.6}),
    Plot.gridX(xTicks, {stroke: grey, strokeOpacity: 1, strokeWidth: 2}),
    Plot.gridY(pctTicks, {stroke: grey, strokeOpacity: 1, strokeWidth: 2}),
    Plot.ruleY([12], {stroke: grey, strokeWidth: 4}),
    Plot.dot(dots, {x: "date", y: "v", r: 6.8, fill: "#C00000", fillOpacity: 0.5}),
    Plot.line(maData, {x: "date", y: "v", stroke: "#303030", strokeOpacity: 0.35, strokeWidth: 7, dx: 4, dy: 6, ariaLabel: "shadow"}),
    Plot.line(maData, {x: "date", y: "v", stroke: "#0000FF", strokeWidth: 6, strokeLinejoin: "round"}),
    Plot.rect(callouts, {x1: d => decYear(d.bx1), x2: d => decYear(d.bx2), y1: "by1", y2: "by2", fill: "#000", fillOpacity: 0.4, dx: 9, dy: 9, ariaLabel: "shadow"}),
    Plot.rect(callouts, {x1: d => decYear(d.bx1), x2: d => decYear(d.bx2), y1: "by1", y2: "by2", fill: "#fff", stroke: "#000", strokeWidth: 2.5}),
    Plot.text(callouts, {x: d => decYear(d.tx), y: "ty", text: "label", fontSize: 44, fontWeight: "bold", lineHeight: 1.45, fill: "#000"}),
    Plot.link(callouts, {x1: d => decYear(d.lx1), y1: "ly1", x2: d => decYear(d.lx2), y2: "ly2", stroke: "#000", strokeWidth: 1.6}),
    Plot.dot(callouts, {x: d => decYear(d.hx), y: "hy", symbol: "triangle", r: 12.5, fill: "#000", rotate: "rot"}),
    Plot.ruleY([0], {stroke: grey, strokeWidth: 4}),
    Plot.axisX(xTicks, {tickSize: 14, tickPadding: 26, tickFormat: d => String(d.getUTCFullYear()), fontSize: 40, fill: "#000", stroke: grey, strokeWidth: 2, label: null}),
    Plot.axisY(pctTicks, {anchor: "left", tickSize: 12, tickPadding: 30, tickFormat: d => d + "%", fontSize: 40, fill: "#C00000", stroke: grey, strokeWidth: 2, label: null}),
    Plot.axisY(spTicks.map(toY), {anchor: "right", tickSize: 16, tickPadding: 33, tickFormat: d => d3.format(",")(Math.round(fromY(d))), fontSize: 40, fill: "#4F81BD", stroke: grey, strokeWidth: 2.5, label: null})
  ]
});
document.getElementById("chart").appendChild(chart);
const s = d3.select(chart.tagName.toLowerCase() === "svg" ? chart : chart.querySelector("svg"));
s.insert("defs", ":first-child").html('<filter id="blurShadow" x="-10%" y="-10%" width="130%" height="130%"><feGaussianBlur stdDeviation="4"/></filter>');
s.selectAll('g[aria-label="shadow"]').attr("filter", "url(#blurShadow)");
</script>
</body></html>
